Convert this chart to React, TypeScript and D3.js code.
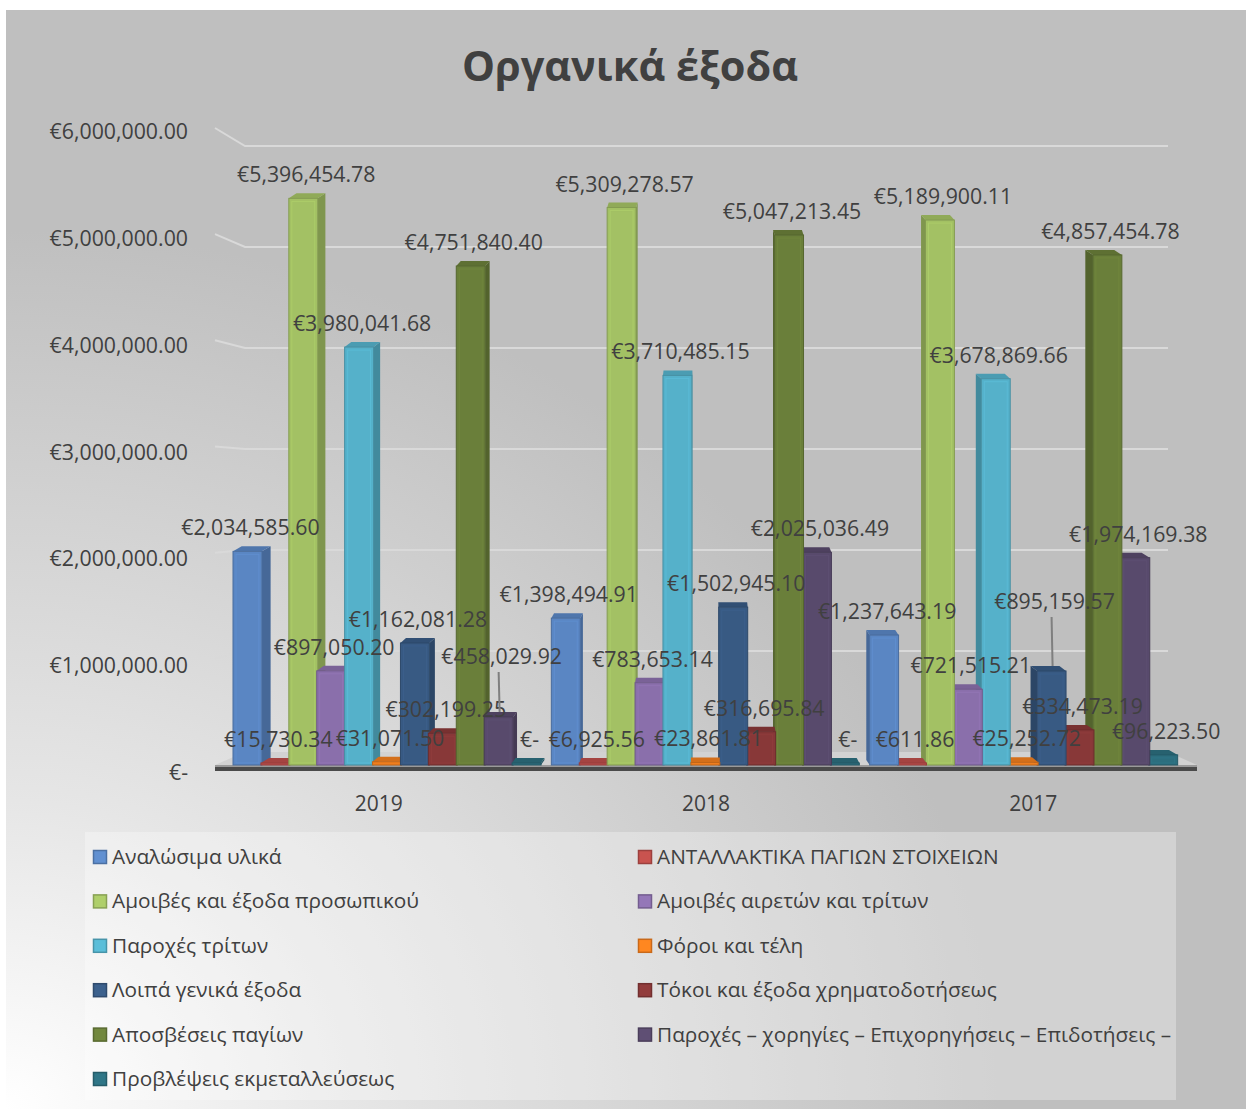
import React, { useEffect, useRef } from 'react';
import * as d3 from 'd3';

const years = ['2019', '2018', '2017'];

const seriesNames = [
  'Αναλώσιμα υλικά',
  'ΑΝΤΑΛΛΑΚΤΙΚΑ ΠΑΓΙΩΝ ΣΤΟΙΧΕΙΩΝ',
  'Αμοιβές και έξοδα προσωπικού',
  'Αμοιβές αιρετών και τρίτων',
  'Παροχές τρίτων',
  'Φόροι και τέλη',
  'Λοιπά γενικά έξοδα',
  'Τόκοι και έξοδα χρηματοδοτήσεως',
  'Αποσβέσεις παγίων',
  'Παροχές – χορηγίες – Επιχορηγήσεις – Επιδοτήσεις –',
  'Προβλέψεις εκμεταλλεύσεως',
];

const seriesColors = [
  '#5a86c3', '#bb4d4a', '#a3c164', '#8a6fab', '#55b1ca', '#f07e1e',
  '#385a83', '#883838', '#6a7f3a', '#584a6c', '#2c6e7e',
];

const values2019 = [2034585.6, 15730.34, 5396454.78, 897050.2, 3980041.68, 31071.5, 1162081.28, 302199.25, 4751840.4, 458029.92, 0];
const values2018 = [1398494.91, 6925.56, 5309278.57, 783653.14, 3710485.15, 23861.81, 1502945.1, 316695.84, 5047213.45, 2025036.49, 0];
const values2017 = [1237643.19, 611.86, 5189900.11, 721515.21, 3678869.66, 25252.72, 895159.57, 334473.19, 4857454.78, 1974169.38, 96223.5];

const yTicks = [0, 1000000, 2000000, 3000000, 4000000, 5000000, 6000000];

// labels that Excel pushed up with a leader line: [year, series, lift]
const leaderLabels: [string, number, number][] = [['2019', 9, 37], ['2017', 6, 46]];

const W = 1246;
const H = 1109;
const FONT = "'Open Sans', 'Noto Sans', sans-serif";
const TEXT = '#404040';

const App: React.FC = () => {
  const ref = useRef<SVGSVGElement>(null);

  useEffect(() => {
    if (!ref.current) return;
    const svg = d3.select(ref.current);
    svg.selectAll('*').remove();

    const valuesByYear: Record<string, number[]> = { '2019': values2019, '2018': values2018, '2017': values2017 };

    const defs = svg.append('defs');
    const bg = defs.append('radialGradient').attr('id', 'bg')
      .attr('cx', 0).attr('cy', 1).attr('r', 0.8);
    bg.append('stop').attr('offset', 0).attr('stop-color', '#ffffff');
    bg.append('stop').attr('offset', 0.35).attr('stop-color', '#e6e6e6');
    bg.append('stop').attr('offset', 1).attr('stop-color', '#bfbfbf');

    svg.append('rect').attr('width', W).attr('height', H).attr('fill', '#fff');
    svg.append('rect').attr('x', 6).attr('y', 10).attr('width', W - 6).attr('height', H - 10)
      .attr('fill', 'url(#bg)');

    // legend box
    svg.append('rect').attr('x', 85).attr('y', 832).attr('width', 1091).attr('height', 268)
      .attr('fill', '#fff').attr('opacity', 0.3);

    // scales
    const yFront = d3.scaleLinear().domain([0, 6000000]).range([765, 135]);
    const yBack = d3.scaleLinear().domain([0, 6000000]).range([752, 146]);
    const ySide = d3.scaleLinear().domain([0, 6000000]).range([765, 128]);
    const yLabel = d3.scaleLinear().domain([0, 6000000]).range([773, 132]);
    const x0 = d3.scaleBand().domain(years).range([231, 1186]);
    const x1 = d3.scaleBand().domain(d3.range(seriesNames.length).map(String)).range([2, 309]);
    const xCat = d3.scaleBand().domain(years).range([215, 1197]);
    const fmt = d3.format(',.2f');
    const money = (v: number) => (v === 0 ? '€-' : '€' + fmt(v));

    // gridlines: side wall + back wall
    const grid = svg.append('g');
    yTicks.filter(t => t > 0).forEach(t => {
      grid.append('polyline')
        .attr('points', `215,${ySide(t)} 245,${yBack(t)} 1168,${yBack(t)}`)
        .attr('fill', 'none').attr('stroke', '#d9d9d9').attr('stroke-width', 2);
    });

    // floor
    svg.append('polygon')
      .attr('points', `245,${yBack(0)} 1168,${yBack(0)} 1197,765 215,765`)
      .attr('fill', '#d2d2d2');
    svg.append('rect').attr('x', 215).attr('y', 765).attr('width', 982).attr('height', 2).attr('fill', '#9a9a9a');
    svg.append('rect').attr('x', 215).attr('y', 767).attr('width', 982).attr('height', 4).attr('fill', '#4a4a4a');

    // bars
    type Bar = { year: string; s: number; v: number; x: number; w: number; top: number; dx: number };
    const bars: Bar[] = [];
    years.forEach(year => {
      valuesByYear[year].forEach((v, s) => {
        const x = (x0(year) || 0) + (x1(String(s)) || 0);
        const w = x1.bandwidth() + 1;
        const top = Math.min(yFront(v), 763);
        const dx = (706 - (x + w / 2)) * 0.019;
        bars.push({ year, s, v, x, w, top, dx });
      });
    });
    const dy = -5;
    const bottom = 765;
    const order = bars.slice().sort((a, b) => Math.abs(b.x + b.w / 2 - 706) - Math.abs(a.x + a.w / 2 - 706));
    const barG = svg.append('g');
    order.forEach(b => {
      const c = d3.color(seriesColors[b.s])!;
      const g = barG.append('g');
      const sidePts = b.dx >= 0
        ? [[b.x + b.w, b.top], [b.x + b.w + b.dx, b.top + dy], [b.x + b.w + b.dx, bottom + dy], [b.x + b.w, bottom]]
        : [[b.x, b.top], [b.x + b.dx, b.top + dy], [b.x + b.dx, bottom + dy], [b.x, bottom]];
      g.append('polygon').attr('points', sidePts.map(p => p.join(',')).join(' '))
        .attr('fill', c.darker(0.7).toString());
      g.append('polygon')
        .attr('points', [[b.x, b.top], [b.x + b.w, b.top], [b.x + b.w + b.dx, b.top + dy], [b.x + b.dx, b.top + dy]]
          .map(p => p.join(',')).join(' '))
        .attr('fill', c.darker(0.35).toString());
      g.append('rect').attr('x', b.x).attr('y', b.top).attr('width', b.w).attr('height', bottom - b.top)
        .attr('fill', c.toString()).attr('stroke', c.darker(0.6).toString()).attr('stroke-width', 1);
      if (bottom - b.top > 8) {
        g.append('rect').attr('x', b.x + 3).attr('y', b.top + 3).attr('width', b.w - 6).attr('height', bottom - b.top - 5)
          .attr('fill', 'none').attr('stroke', c.brighter(0.25).toString()).attr('stroke-width', 1).attr('opacity', 0.6);
      }
    });

    // data labels
    const labelG = svg.append('g').attr('font-family', FONT).attr('font-size', 21.3).attr('fill', TEXT)
      .attr('text-anchor', 'middle');
    bars.forEach(b => {
      const lead = leaderLabels.find(l => l[0] === b.year && l[1] === b.s);
      const cx = b.x + b.w / 2 + 3;
      const cy = b.top - 23 - (lead ? lead[2] : 0);
      if (lead) {
        labelG.append('line').attr('x1', cx - 3).attr('x2', cx - 2).attr('y1', cy + 15).attr('y2', b.top - 5)
          .attr('stroke', '#7f7f7f').attr('stroke-width', 2);
      }
      labelG.append('text').attr('x', cx).attr('y', cy + 7).text(money(b.v));
    });

    // y axis labels
    svg.append('g').attr('font-family', FONT).attr('font-size', 21.3).attr('fill', TEXT).attr('text-anchor', 'end')
      .selectAll('text').data(yTicks).join('text')
      .attr('x', 188).attr('y', d => yLabel(d) + 7).text(d => money(d));

    // category labels
    svg.append('g').attr('font-family', FONT).attr('font-size', 21).attr('fill', TEXT).attr('text-anchor', 'middle')
      .selectAll('text').data(years).join('text')
      .attr('x', d => (xCat(d) || 0) + xCat.bandwidth() / 2).attr('y', 811).text(d => d);

    // title
    svg.append('text').attr('x', 630).attr('y', 81).attr('text-anchor', 'middle')
      .attr('font-family', FONT).attr('font-weight', 700).attr('font-size', 41.5).attr('fill', TEXT)
      .text('Οργανικά έξοδα');

    // legend
    const leg = svg.append('g').attr('font-family', FONT).attr('font-size', 20.8).attr('fill', TEXT);
    seriesNames.forEach((name, i) => {
      const col = i % 2;
      const row = Math.floor(i / 2);
      const lx = col === 0 ? 93 : 638;
      const ly = 857 + row * 44.4;
      const c = d3.color(seriesColors[i])!;
      leg.append('rect').attr('x', lx + 0.5).attr('y', ly - 6.5).attr('width', 13).attr('height', 13)
        .attr('fill', c.brighter(0.2).toString()).attr('stroke', c.darker(0.5).toString()).attr('stroke-width', 1.5);
      leg.append('text').attr('x', lx + 19).attr('y', ly + 7).text(name);
    });
  }, []);

  return (
    <div style={{ position: 'absolute', left: 0, top: 0 }}>
      <svg ref={ref} width={W} height={H} style={{ display: 'block' }} />
    </div>
  );
};

export default App;
